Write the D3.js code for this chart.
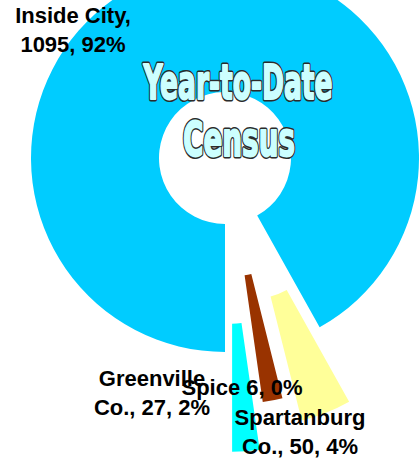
<!DOCTYPE html>
<html lang="en">
<head>
<meta charset="utf-8">
<title>Year-to-Date Census</title>
<script src="https://d3js.org/d3.v7.min.js"></script>
<style>
  body { margin: 0; background: #fff; }
  svg { display: block; }
  .lbl { font-family: "Liberation Sans", Arial, sans-serif; font-weight: bold; font-size: 22px; fill: #000; }
  .title { font-family: "DejaVu Sans Condensed", "DejaVu Sans", sans-serif; font-weight: bold; font-size: 30px;
           stroke-linejoin: round; }
  .title.outline { fill: #ccffff; stroke: #2b2b2b; stroke-width: 4.2px; }
  .title.face { fill: #ccffff; stroke: #ccffff; stroke-width: 1.6px; }
</style>
</head>
<body>
<div id="chart"></div>
<script>
// data, in the order the slices run clockwise from the bottom
var categories = ["Inside City", "Spartanburg Co.", "Spice", "Greenville Co."];
var counts = [1095, 50, 6, 27];
var percents = ["92%", "4%", "0%", "2%"];
var colors = ["#00ccff", "#ffff99", "#993300", "#00ffff"];

// label lines
var labelLines = [
  ["Inside City,", "1095, 92%"],
  ["Spartanburg", "Co., 50, 4%"],
  ["Spice 6, 0%"],
  ["Greenville", "Co., 27, 2%"]
];
var titleLines = ["Year-to-Date", "Census"];

// how far each slice is pulled out, and where its label sits
var explode = [0, 80, 53, 100];
var labelPos = [[73, 23], [300, 425], [242, 395], [152, 386]];
var drawOrder = [0, 3, 2, 1];

var w = 419, h = 464;
var cx = 225, cy = 158;
var rInner = 66, rOuter = 194;
var minAngle = 6; // degrees, tiny slices are drawn at least this wide

var total = d3.sum(counts);

var svg = d3.select("#chart").append("svg")
  .attr("width", w)
  .attr("height", h);

var pie = d3.pie()
  .sort(null)
  .startAngle(Math.PI)
  .endAngle(3 * Math.PI)
  .value(function(d) { return Math.max(d, total * minAngle / 360); });

var arcs = pie(counts);
var arc = d3.arc().innerRadius(rInner).outerRadius(rOuter);

var g = svg.append("g").attr("transform", "translate(" + cx + "," + cy + ")");

g.selectAll("path")
  .data(drawOrder.map(function(i) { return { a: arcs[i], i: i }; }))
  .enter()
  .append("path")
  .attr("d", function(d) { return arc(d.a); })
  .attr("fill", function(d) { return colors[d.i]; })
  .attr("transform", function(d) {
    var mid = (d.a.startAngle + d.a.endAngle) / 2;
    var dx = Math.sin(mid) * explode[d.i];
    var dy = -Math.cos(mid) * explode[d.i];
    return "translate(" + dx + "," + dy + ")";
  });

// title, a heavy condensed look made by stretching bold text
// an outlined layer below, a fattened face on top
var titlePos = [[238, 99, 189], [239, 156, 112]]; // centre x, baseline, width
["outline", "face"].forEach(function(layer) {
  svg.selectAll(".title." + layer)
    .data(titleLines)
    .enter()
    .append("text")
    .attr("class", "title " + layer)
    .attr("text-anchor", "middle")
    .attr("vector-effect", "non-scaling-stroke")
    .text(function(d) { return d; })
    .attr("transform", function(d, i) {
      var sx = titlePos[i][2] / this.getComputedTextLength();
      return "translate(" + titlePos[i][0] + "," + titlePos[i][1] + ") scale(" + sx + ",1.6)";
    });
});

// data labels
var labels = svg.selectAll(".lbl")
  .data(categories)
  .enter()
  .append("text")
  .attr("class", "lbl")
  .attr("text-anchor", "middle")
  .attr("x", function(d, i) { return labelPos[i][0]; })
  .attr("y", function(d, i) { return labelPos[i][1]; });

labels.selectAll("tspan")
  .data(function(d, i) { return labelLines[i]; })
  .enter()
  .append("tspan")
  .attr("x", function() { return d3.select(this.parentNode).attr("x"); })
  .attr("dy", function(d, j) { return j === 0 ? 0 : 29; })
  .text(function(d) { return d; });
</script>
</body>
</html>
